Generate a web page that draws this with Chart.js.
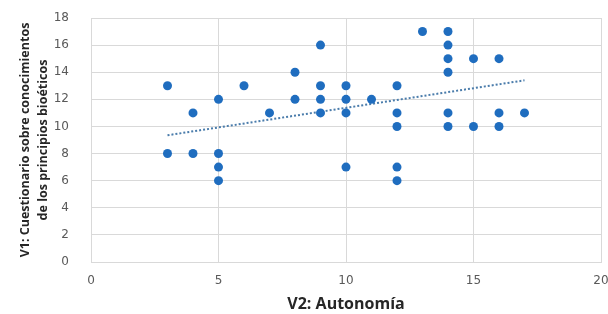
<!DOCTYPE html>
<html lang="es">
<head>
<meta charset="UTF-8">
<title>V1 vs V2</title>
<script src="https://cdn.jsdelivr.net/npm/chart.js"></script>
<style>
  html, body { margin: 0; padding: 0; background: #ffffff; }
  #wrap { width: 608px; height: 314px; }
</style>
</head>
<body>
<div id="wrap"><canvas id="chart" width="608" height="314"></canvas></div>
<script>
// V2: Autonomía (x) / V1: conocimientos (y)
const autonomia = [3, 3, 4, 4, 5, 5, 5, 5, 6, 7, 8, 8, 9, 9, 9, 9, 10, 10, 10, 10, 11,
                   12, 12, 12, 12, 12, 13, 14, 14, 14, 14, 14, 14, 15, 15, 16, 16, 16, 17];
const conocimientos = [13, 8, 11, 8, 12, 8, 7, 6, 13, 11, 14, 12, 16, 13, 12, 11, 13, 12, 11, 7, 12,
                       13, 11, 10, 7, 6, 17, 17, 16, 15, 14, 11, 10, 15, 10, 15, 11, 10, 11];

// linear trend as drawn in the picture (start / end)
const trendX = [3, 17];
const trendY = [9.35, 13.4];

const points = autonomia.map((x, i) => ({ x: x, y: conocimientos[i] }));
const trend = trendX.map((x, i) => ({ x: x, y: trendY[i] }));

const tickFont = { family: 'DejaVu Sans', size: 12 };
const grey = '#595959';

new Chart(document.getElementById('chart'), {
    type: 'scatter',
    data: {
        datasets: [
            {
                label: 'V1',
                data: points,
                backgroundColor: '#1f6dbf',
                borderColor: '#1f6dbf',
                borderWidth: 0,
                pointRadius: 4.5,
                pointHoverRadius: 4.5
            },
            {
                label: 'Lineal',
                type: 'line',
                data: trend,
                borderColor: '#4a7cab',
                borderWidth: 2,
                borderDash: [2, 2],
                pointRadius: 0,
                fill: false
            }
        ]
    },
    options: {
        responsive: false,
        animation: false,
        events: [],
        layout: { padding: { left: 0, right: 7, top: 18, bottom: 0 } },
        plugins: { legend: { display: false }, tooltip: { enabled: false } },
        scales: {
            x: {
                min: 0, max: 20,
                ticks: { stepSize: 5, color: grey, font: tickFont, padding: 12 },
                grid: { color: '#d9d9d9', drawTicks: false },
                border: { color: '#d9d9d9' },
                title: {
                    display: true,
                    text: 'V2: Autonomía',
                    color: '#262626',
                    font: { family: 'Open Sans', size: 16, weight: 'bold' },
                    padding: { top: 3, bottom: 0 }
                },
                afterFit: (scale) => {
                    scale.height = 52;
                    scale.paddingLeft = 0;
                    scale.paddingRight = 0;
                }
            },
            y: {
                min: 0, max: 18,
                ticks: { stepSize: 2, color: grey, font: tickFont, padding: 22 },
                grid: { color: '#d9d9d9', drawTicks: false },
                border: { color: '#d9d9d9' },
                title: {
                    display: true,
                    text: ['V1: Cuestionario sobre conocimientos', 'de los principios bioéticos'],
                    color: '#262626',
                    font: { family: 'Open Sans', size: 12.5, weight: 'bold', lineHeight: 1.45 },
                    padding: { top: 16, bottom: 0 }
                },
                afterFit: (scale) => {
                    scale.width = 91;
                    scale.paddingTop = 0;
                    scale.paddingBottom = 0;
                }
            }
        }
    }
});
</script>
</body>
</html>
